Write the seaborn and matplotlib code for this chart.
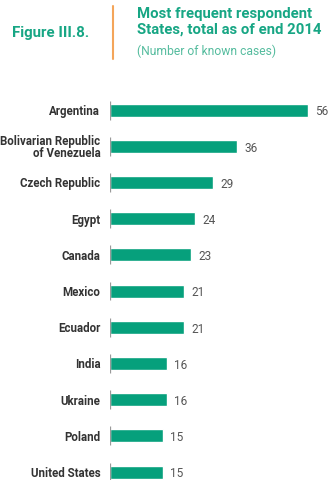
import numpy as np
import pandas as pd
import matplotlib.pyplot as plt
import seaborn as sns

countries = ['Argentina', 'Bolivarian Republic\nof Venezuela', 'Czech Republic',
             'Egypt', 'Canada', 'Mexico', 'Ecuador', 'India', 'Ukraine',
             'Poland', 'United States']
cases = [56, 36, 29, 24, 23, 21, 21, 16, 16, 15, 15]

df = pd.DataFrame({'country': countries, 'cases': cases})

green = '#06A07C'
title_green = '#17A684'
sns.set_style('white')
plt.rcParams['font.family'] = ['Roboto', 'DejaVu Sans']

fig = plt.figure(figsize=(3.33, 4.8), dpi=100)
ax = fig.add_axes([110 / 333, 0.0, 210 / 333, 388 / 480])

sns.barplot(data=df, x='cases', y='country', color=green, width=0.36,
            saturation=1, ax=ax)

# short gray tick on the axis at each bar
pos = np.arange(len(countries))
ax.vlines(np.zeros(len(pos)), pos - 0.26, pos + 0.26, color='#9a9a9a',
          lw=0.9, zorder=3)

for p, v in zip(pos, cases):
    ax.text(v + 2.1, p + 0.05, str(v), va='center', ha='left',
            fontsize=8.5, color='#555555')

ax.set_xlim(0, 59.4)
ax.set_ylim(10.22, -0.5)
ax.set_xlabel('')
ax.set_ylabel('')
ax.set_xticks([])
ax.tick_params(axis='y', length=0, pad=7)
for lbl in ax.get_yticklabels():
    lbl.set_fontsize(8.3)
    lbl.set_fontweight('bold')
    lbl.set_color('#333333')
    lbl.set_linespacing(0.95)
sns.despine(ax=ax, left=True, bottom=True)

fig.text(12 / 333, 1 - 33 / 480, 'Figure III.8.', fontsize=10.8,
         fontweight='bold', color=title_green, va='center', ha='left')
fig.add_artist(plt.Line2D([113 / 333, 113 / 333], [1 - 6 / 480, 1 - 59 / 480],
                          color='#F4A55A', lw=1.5))
fig.text(137 / 333, 1 - 7 / 480, 'Most frequent respondent\nStates, total as of end 2014',
         fontsize=10.7, fontweight='bold', color=title_green, va='top',
         ha='left', linespacing=1.12)
fig.text(137 / 333, 1 - 51 / 480, '(Number of known cases)', fontsize=8.7,
         color='#55BC9E', va='center', ha='left')

fig.savefig('out.png', dpi=100)
